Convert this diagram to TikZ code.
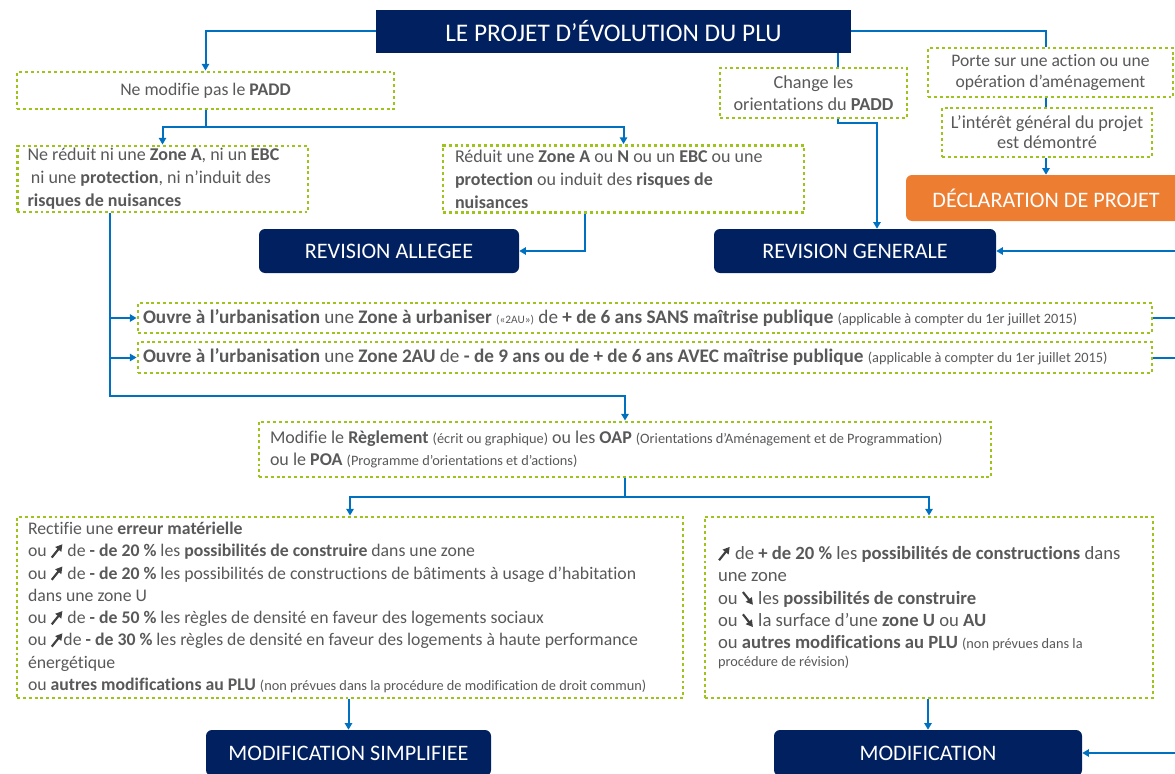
\documentclass[tikz,border=0pt]{standalone}
\usepackage{fontspec}
\setmainfont{Carlito}[Ligatures=NoCommon]
\usetikzlibrary{arrows.meta}
\definecolor{navy}{HTML}{002060}
\definecolor{orangebox}{HTML}{ED7D31}
\definecolor{dotgreen}{HTML}{9DC41A}
\definecolor{linkblue}{HTML}{0070C0}
\definecolor{txtgray}{HTML}{595959}
\definecolor{glyphgray}{HTML}{404040}
\newcommand{\ua}{\tikz[baseline=0pt]\draw[glyphgray, line width=1.6pt, -{Triangle[length=5pt,width=5.5pt]}] (0pt,-0.5pt) -- (8pt,9.5pt);}
\newcommand{\da}{\tikz[baseline=0pt]\draw[glyphgray, line width=1.6pt, -{Triangle[length=5pt,width=5.5pt]}] (0pt,9pt) -- (7.5pt,-0.5pt);}
\newcommand{\sm}[1]{{\fontsize{10.75}{10}\selectfont #1}}
\newcommand{\tn}[1]{{\fontsize{8.5}{8}\selectfont #1}}
\newcommand{\nsp}{\spaceskip=0pt\xspaceskip=0pt\relax}
\tikzset{
  dbox/.style={draw=dotgreen, line width=2.2pt, dash pattern=on 2.2pt off 2.2pt,
    fill=white, text=txtgray, font=\fontsize{13.5}{16.5}\selectfont, inner sep=0pt},
  navybox/.style={fill=navy, text=white, rounded corners=4.5pt, inner sep=0pt,
    font=\fontsize{16.6}{18}\selectfont},
  link/.style={draw=linkblue, line width=1.5pt},
  conn/.style={link, -{Triangle[length=5pt,width=5.5pt]}},
}
\begin{document}
\begin{tikzpicture}[x=0.75pt,y=-0.75pt]
\useasboundingbox (0,0) rectangle (1175,774);
\clip (0,0) rectangle (1175,774);

% named x / corner coordinates
\coordinate (x585) at (585,0);
\coordinate (x838) at (838,0);
\coordinate (x877) at (877,0);
\coordinate (x1046) at (1046,0);
\coordinate (h1) at (205.5,127);
\coordinate (b1) at (110,396);
\coordinate (c1) at (838,123);
\coordinate (m1) at (625,497);
\coordinate (e1) at (1180,251);
\coordinate (e2) at (1180,753);

% title
\node[fill=navy, text=white, inner sep=0pt, minimum width=356.25pt, minimum height=32.25pt,
  font=\fontsize{19}{20}\selectfont] (title) at (613.5,31.5) {LE PROJET D’ÉVOLUTION DU PLU};

% left branch
\node[dbox, minimum width=282.75pt, minimum height=27.75pt, font=\fontsize{13.3}{16}\selectfont] (nemod) at (205.5,90.5)
  {Ne modifie pas le \textbf{PADD}};
\node[dbox, text width=202.4pt, align=left, inner xsep=7.9pt, minimum height=49.5pt,
  font=\fontsize{13.5}{17.25}\selectfont] (nereduit) at (162.5,179)
  {\nsp Ne réduit ni une \textbf{Zone A}, ni un \textbf{EBC}\\
   \hspace{2.5pt}ni une \textbf{protection}, ni n’induit des\\
   \textbf{risques de nuisances}};
\node[dbox, text width=252.75pt, align=left, inner xsep=9pt, minimum height=50.25pt,
  font=\fontsize{13.5}{17.25}\selectfont] (reduit) at (623.5,179)
  {\nsp Réduit une \textbf{Zone A} ou \textbf{N} ou un \textbf{EBC} ou une\\
   \textbf{protection} ou induit des \textbf{risques de}\\
   \textbf{nuisances}};
\node[navybox, minimum width=195pt, minimum height=33pt] (revall) at (389,251) {REVISION ALLEGEE};

% middle / right branch
\node[dbox, align=center, minimum width=140.25pt, minimum height=37.5pt,
  font=\fontsize{13.7}{16.5}\selectfont] (change) at (813.5,93)
  {\nsp Change les\\orientations du \textbf{PADD}};
\node[dbox, align=center, minimum width=183.75pt, minimum height=36.75pt,
  font=\fontsize{13.2}{15.75}\selectfont] (porte) at (1050.5,72.5)
  {\nsp Porte sur une action ou une\\opération d’aménagement};
\node[dbox, align=center, minimum width=157.5pt, minimum height=36.75pt,
  font=\fontsize{13.7}{15}\selectfont] (interet) at (1047,132.5)
  {\nsp L’intérêt général du projet\\est démontré};
\node[fill=orangebox, text=white, rounded corners=4.5pt, inner sep=0pt,
  minimum width=210pt, minimum height=34.5pt, font=\fontsize{16.6}{18}\selectfont]
  (decl) at (1046,198) {DÉCLARATION DE PROJET};
\node[navybox, minimum width=211.5pt, minimum height=33pt] (revgen) at (855,251) {REVISION GENERALE};

% zone 2AU lines
\node[dbox, text width=753pt, align=left, inner xsep=3.75pt, minimum height=22.5pt,
  font=\fontsize{14.4}{15}\selectfont] (zone1) at (645,318)
  {\nsp\textbf{Ouvre à l’urbanisation} une \textbf{Zone à urbaniser} \tn{(«2AU»)} de \textbf{+ de 6 ans SANS maîtrise publique} \sm{(applicable à compter du 1er juillet 2015)}};
\node[dbox, text width=753pt, align=left, inner xsep=3.75pt, minimum height=23.25pt,
  font=\fontsize{14.4}{15}\selectfont] (zone2) at (645,357.5)
  {\nsp\textbf{Ouvre à l’urbanisation} une \textbf{Zone 2AU} de \textbf{- de 9 ans ou de + de 6 ans AVEC maîtrise publique} \sm{(applicable à compter du 1er juillet 2015)}};

% modifie
\node[dbox, text width=532.5pt, align=left, inner xsep=8.25pt, minimum height=41.25pt,
  font=\fontsize{13.5}{16.5}\selectfont] (modifie) at (625,449.5)
  {\nsp Modifie le \textbf{Règlement} \sm{(écrit ou graphique)} ou les \textbf{OAP} \sm{(Orientations d’Aménagement et de Programmation)}\\
   ou le \textbf{POA} \sm{(Programme d’orientations et d’actions)}};

% bottom boxes
\node[dbox, text width=483pt, align=left, inner xsep=8.25pt, minimum height=135.75pt,
  font=\fontsize{13.3}{16.7}\selectfont] (leftbox) at (350,607.5)
  {\nsp Rectifie une \textbf{erreur matérielle}\\
   ou \ua{} de \textbf{- de 20 \%} les \textbf{possibilités de construire} dans une zone\\
   ou \ua{} de \textbf{- de 20 \%} les possibilités de constructions de bâtiments à usage d’habitation\\
   dans une zone U\\
   ou \ua{} de \textbf{- de 50 \%} les règles de densité en faveur des logements sociaux\\
   ou \ua de \textbf{- de 30 \%} les règles de densité en faveur des logements à haute performance\\
   énergétique\\
   ou \textbf{autres modifications au PLU} \sm{(non prévues dans la procédure de modification de droit commun)}};
\node[dbox, text width=316.5pt, align=left, inner xsep=9.75pt, minimum height=135.75pt,
  font=\fontsize{14}{16.7}\selectfont] (rightbox) at (929,607.5)
  {\nsp\ua{} de \textbf{+ de 20 \%} les \textbf{possibilités de constructions} dans\\
   une zone\\
   ou \da{} les \textbf{possibilités de construire}\\
   ou \da{} la surface d’une \textbf{zone U} ou \textbf{AU}\\
   ou \textbf{autres modifications au PLU} \sm{(non prévues dans la}\\[-3pt]
   \sm{procédure de révision)}};

\node[navybox, minimum width=213.75pt, minimum height=34.5pt] (modsimp) at (348.5,753) {MODIFICATION SIMPLIFIEE};
\node[navybox, minimum width=231pt, minimum height=34.5pt] (modif) at (928,753) {MODIFICATION};

% connectors
\draw[conn] (title.west) -| (nemod.north);
\draw[link] (nemod.south) -- (h1);
\draw[conn] (h1) -| (nereduit.north);
\draw[conn] (h1) -| (reduit.north);
\draw[conn] (reduit.south -| x585) |- (revall.east);
\draw[conn] (nereduit.south -| b1) -- (b1) -| (modifie.north);
\draw[conn] (zone1.west -| b1) -- (zone1.west);
\draw[conn] (zone2.west -| b1) -- (zone2.west);
\draw[link] (title.south -| x838) -- (change.north -| x838);
\draw[conn] (change.south -| c1) -- (c1) -| (revgen.north -| x877);
\draw[link] (title.east) -| (porte.north -| x1046);
\draw[link] (porte.south -| x1046) -- (interet.north -| x1046);
\draw[conn] (interet.south -| x1046) -- (decl.north -| x1046);
\draw[conn] (e1) -- (revgen.east);
\draw[link] (zone1.east) -- (zone1.east -| e1);
\draw[link] (zone2.east) -- (zone2.east -| e1);
\draw[link] (modifie.south) -- (m1);
\draw[conn] (m1) -| (leftbox.north);
\draw[conn] (m1) -| (rightbox.north);
\draw[conn] (leftbox.south -| modsimp.north) -- (modsimp.north);
\draw[conn] (rightbox.south -| modif.north) -- (modif.north);
\draw[conn] (e2) -- (modif.east);
\end{tikzpicture}
\end{document}
